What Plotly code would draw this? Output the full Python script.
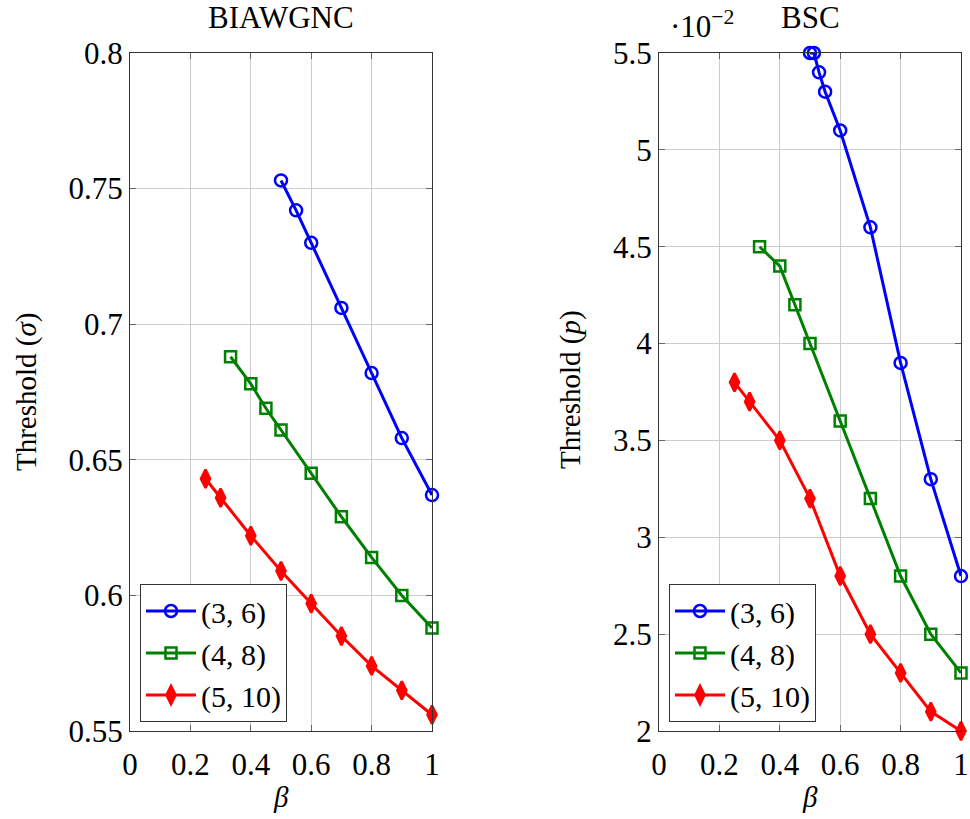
import plotly.graph_objects as go
from plotly.subplots import make_subplots

# ---------------- data ----------------
labels = ["(3, 6)", "(4, 8)", "(5, 10)"]
colors = ["#0000ff", "#008000", "#ff0000"]
symbols = ["circle-open", "square-open", "diamond-tall"]

# BIAWGNC (threshold sigma)
aw_x36 = [0.5, 0.55, 0.6, 0.7, 0.8, 0.9, 1.0]
aw_y36 = [0.753, 0.742, 0.730, 0.706, 0.682, 0.658, 0.637]
aw_x48 = [0.333, 0.4, 0.45, 0.5, 0.6, 0.7, 0.8, 0.9, 1.0]
aw_y48 = [0.688, 0.678, 0.669, 0.661, 0.645, 0.629, 0.614, 0.600, 0.588]
aw_x510 = [0.25, 0.3, 0.4, 0.5, 0.6, 0.7, 0.8, 0.9, 1.0]
aw_y510 = [0.643, 0.636, 0.622, 0.609, 0.597, 0.585, 0.574, 0.565, 0.556]

# BSC (threshold p, in units of 1e-2)
bsc_x36 = [0.5, 0.513, 0.53, 0.55, 0.6, 0.7, 0.8, 0.9, 1.0]
bsc_y36 = [5.5, 5.5, 5.4, 5.3, 5.1, 4.6, 3.9, 3.3, 2.8]
bsc_x48 = [0.333, 0.4, 0.45, 0.5, 0.6, 0.7, 0.8, 0.9, 1.0]
bsc_y48 = [4.5, 4.4, 4.2, 4.0, 3.6, 3.2, 2.8, 2.5, 2.3]
bsc_x510 = [0.25, 0.3, 0.4, 0.5, 0.6, 0.7, 0.8, 0.9, 1.0]
bsc_y510 = [3.8, 3.7, 3.5, 3.2, 2.8, 2.5, 2.3, 2.1, 2.0]

x_ticks = [0, 0.2, 0.4, 0.6, 0.8, 1.0]
x_ticktext = ["0", "0.2", "0.4", "0.6", "0.8", "1"]
aw_yticks = [0.55, 0.6, 0.65, 0.7, 0.75, 0.8]
aw_yticktext = ["0.55", "0.6", "0.65", "0.7", "0.75", "0.8"]
bsc_yticks = [2, 2.5, 3, 3.5, 4, 4.5, 5, 5.5]
bsc_yticktext = ["2", "2.5", "3", "3.5", "4", "4.5", "5", "5.5"]

FONT = "Liberation Serif"
W, H = 970, 819
L1, R1, L2, R2, TOP, BOT = 130, 432, 659, 961, 53, 731

fig = make_subplots(rows=1, cols=2)

aw = [(aw_x36, aw_y36), (aw_x48, aw_y48), (aw_x510, aw_y510)]
bsc = [(bsc_x36, bsc_y36), (bsc_x48, bsc_y48), (bsc_x510, bsc_y510)]
msize = [12, 11, 13]

for col, series, leg in [(1, aw, "legend"), (2, bsc, "legend2")]:
    for i, (xs, ys) in enumerate(series):
        fig.add_trace(go.Scatter(
            x=xs, y=ys, mode="lines+markers", name=labels[i],
            line=dict(color=colors[i], width=3),
            marker=dict(symbol=symbols[i], size=msize[i],
                        color=colors[i], line=dict(width=2.5, color=colors[i])),
            legend=leg, cliponaxis=False), row=1, col=col)

common_axis = dict(
    showline=True, linecolor="#333333", linewidth=1.3, mirror="ticks",
    ticks="inside", ticklen=6, tickcolor="#666666",
    showgrid=True, gridcolor="#cccccc", gridwidth=1, zeroline=False,
    tickfont=dict(family=FONT, size=31, color="black"),
    automargin=False,
)

fig.update_xaxes(**common_axis, range=[0, 1], tickvals=x_ticks, ticktext=x_ticktext,
                 ticklabelstandoff=6)
fig.update_xaxes(domain=[L1 / W, R1 / W], row=1, col=1)
fig.update_xaxes(domain=[L2 / W, R2 / W], row=1, col=2)

fig.update_yaxes(**common_axis, domain=[1 - BOT / H, 1 - TOP / H])
fig.update_yaxes(range=[0.55, 0.8], tickvals=aw_yticks, ticktext=aw_yticktext, row=1, col=1)
fig.update_yaxes(range=[2, 5.5], tickvals=bsc_yticks, ticktext=bsc_yticktext, row=1, col=2)

legend_style = dict(
    bgcolor="white", bordercolor="#333333", borderwidth=1,
    font=dict(family=FONT, size=30, color="black"),
    xanchor="left", yanchor="top", xref="paper", yref="paper",
    tracegroupgap=0, itemwidth=50,
)


def ann(text, x, y, size=29, angle=0, xanchor="center"):
    return dict(text=text, x=x / W, y=1 - y / H, xref="paper", yref="paper",
                showarrow=False, textangle=angle,
                font=dict(family=FONT, size=size, color="black"),
                xanchor=xanchor, yanchor="middle")


fig.update_layout(
    width=W, height=H,
    margin=dict(l=0, r=0, t=0, b=0),
    plot_bgcolor="white", paper_bgcolor="white",
    legend=dict(**legend_style, x=140 / W, y=1 - 584 / H),
    legend2=dict(**legend_style, x=669 / W, y=1 - 584 / H),
    annotations=[
        ann("BIAWGNC", (L1 + R1) / 2, 17, size=31),
        ann("BSC", 810, 17, size=31),
        ann("·10<sup>−2</sup>", 668, 24, size=31, xanchor="left"),
        ann("Threshold (<i>σ</i>)", 26, (TOP + BOT) / 2, angle=-90),
        ann("Threshold (<i>p</i>)", 570, (TOP + BOT) / 2 - 2, angle=-90),
        ann("<i>β</i>", (L1 + R1) / 2, 797),
        ann("<i>β</i>", (L2 + R2) / 2, 797),
    ],
)

fig.write_html("out.html", config={"displayModeBar": False},
               post_script="document.body.style.margin='0';document.body.style.overflow='hidden';")
